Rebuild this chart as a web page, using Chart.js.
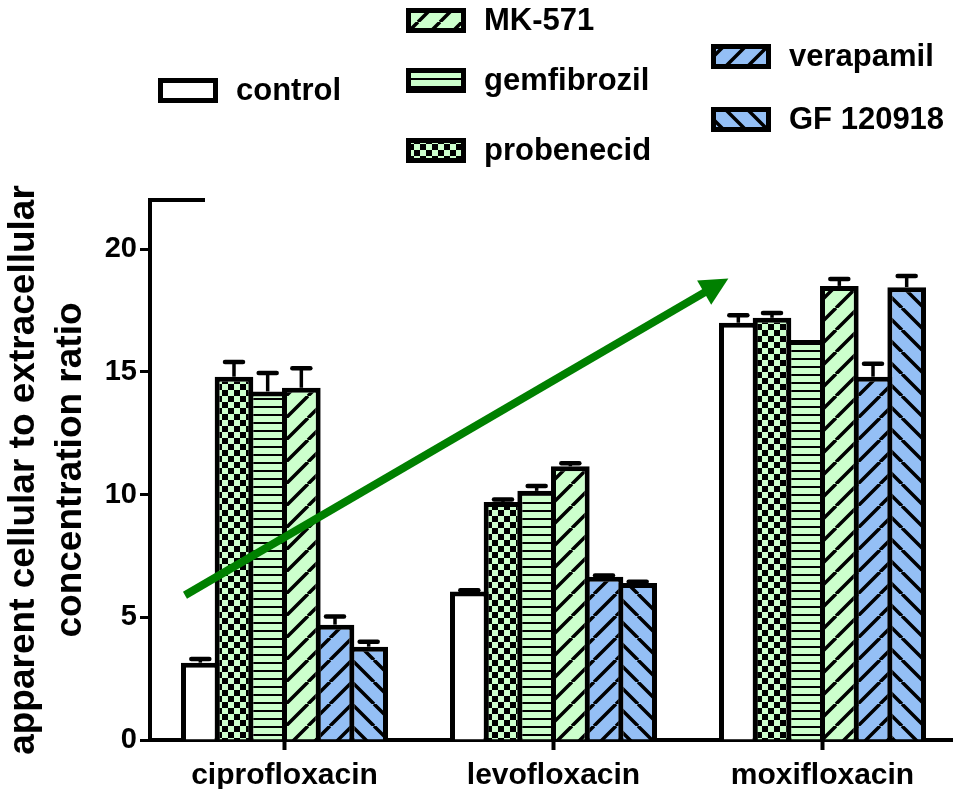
<!DOCTYPE html>
<html>
<head>
<meta charset="utf-8">
<title>Fluoroquinolone accumulation</title>
<script src="https://cdn.jsdelivr.net/npm/chart.js@4.4.1/dist/chart.umd.min.js"></script>
<style>
    html, body { margin: 0; padding: 0; background: #fff; overflow: hidden; }
    canvas { display: block; }
</style>
</head>
<body>
<canvas id="uptakeChart" width="960" height="789"></canvas>
<script>
// Cellular accumulation of three fluoroquinolones with / without efflux inhibitors
const drugs = ['ciprofloxacin', 'levofloxacin', 'moxifloxacin'];
const treatments = ['control', 'probenecid', 'gemfibrozil', 'MK-571', 'verapamil', 'GF 120918'];

const controlVals    = [3.15, 6.05, 17.0];
const probenecidVals = [14.8, 9.7, 17.2];
const gemfibrozilVals = [14.2, 10.15, 16.3];
const mk571Vals      = [14.35, 11.15, 18.5];
const verapamilVals  = [4.7, 6.65, 14.8];
const gf120918Vals   = [3.8, 6.4, 18.45];

// SEM (upper bar only)
const controlErr    = [0.15, 0.05, 0.3];
const probenecidErr = [0.6, 0.1, 0.2];
const gemfibrozilErr = [0.75, 0.2, 0];
const mk571Err      = [0.8, 0.12, 0.28];
const verapamilErr  = [0.33, 0.05, 0.53];
const gf120918Err   = [0.2, 0.05, 0.45];

const yTicks = [0, 5, 10, 15, 20];

// trend arrow, in (category index, ratio) units
const arrowFrom = [-0.37, 5.9];
const arrowTo = [1.65, 18.8];

const GREEN = '#ccffcc';
const BLUE = '#94bff5';
const FONT = '"Liberation Sans", Arial, Helvetica, sans-serif';

const canvas = document.getElementById('uptakeChart');
const mainCtx = canvas.getContext('2d');

function makePattern(size, draw) {
    const tile = document.createElement('canvas');
    tile.width = size;
    tile.height = size;
    draw(tile.getContext('2d'), size);
    return mainCtx.createPattern(tile, 'repeat');
}

function checker(color) {
    return makePattern(12, (g, s) => {
        g.fillStyle = color;
        g.fillRect(0, 0, s, s);
        g.fillStyle = '#000';
        g.fillRect(0, 0, 6, 6);
        g.fillRect(6, 6, 6, 6);
    });
}

function hLines(color) {
    return makePattern(8, (g, s) => {
        g.fillStyle = color;
        g.fillRect(0, 0, s, s);
        g.fillStyle = '#000';
        g.fillRect(0, 6, s, 2);
    });
}

function diagonal(color, rising) {
    return makePattern(22, (g, s) => {
        g.fillStyle = color;
        g.fillRect(0, 0, s, s);
        g.strokeStyle = '#000';
        g.lineWidth = 3.5;
        g.beginPath();
        for (const k of [-s, 0, s]) {
            if (rising) {
                g.moveTo(k, s);
                g.lineTo(k + s, 0);
            } else {
                g.moveTo(k, 0);
                g.lineTo(k + s, s);
            }
        }
        g.stroke();
    });
}

const fills = [
    '#ffffff',
    checker(GREEN),
    hLines(GREEN),
    diagonal(GREEN, true),
    diagonal(BLUE, true),
    diagonal(BLUE, false)
];

const seriesVals = [controlVals, probenecidVals, gemfibrozilVals, mk571Vals, verapamilVals, gf120918Vals];
const seriesErr = [controlErr, probenecidErr, gemfibrozilErr, mk571Err, verapamilErr, gf120918Err];

// legend boxes: top-left corner of each swatch
const legendSlots = [
    { x: 158, y: 78 },
    { x: 406, y: 138 },
    { x: 406, y: 68 },
    { x: 406, y: 8 },
    { x: 711, y: 44 },
    { x: 711, y: 107 }
];

const errorBars = {
    id: 'errorBars',
    afterDatasetsDraw(chart) {
        const ctx = chart.ctx;
        const yScale = chart.scales.y;
        chart.data.datasets.forEach((ds, i) => {
            const meta = chart.getDatasetMeta(i);
            meta.data.forEach((bar, j) => {
                const err = ds.errors[j];
                if (!err) return;
                const top = yScale.getPixelForValue(ds.data[j] + err);
                ctx.save();
                ctx.strokeStyle = '#000';
                ctx.lineWidth = 3.5;
                ctx.beginPath();
                ctx.moveTo(bar.x, bar.y);
                ctx.lineTo(bar.x, top);
                ctx.stroke();
                ctx.lineWidth = 4.5;
                ctx.lineCap = 'round';
                ctx.beginPath();
                ctx.moveTo(bar.x - 9, top);
                ctx.lineTo(bar.x + 9, top);
                ctx.stroke();
                ctx.restore();
            });
        });
    }
};

const trendArrow = {
    id: 'trendArrow',
    afterDatasetsDraw(chart) {
        const ctx = chart.ctx;
        const { x, y } = chart.scales;
        const x0 = x.getPixelForValue(arrowFrom[0]);
        const y0 = y.getPixelForValue(arrowFrom[1]);
        const x1 = x.getPixelForValue(arrowTo[0]);
        const y1 = y.getPixelForValue(arrowTo[1]);
        const ang = Math.atan2(y1 - y0, x1 - x0);
        const headLen = 28;
        const headHalf = 14;
        const bx = x1 - headLen * Math.cos(ang);
        const by = y1 - headLen * Math.sin(ang);

        ctx.save();
        ctx.strokeStyle = '#008000';
        ctx.fillStyle = '#008000';
        ctx.lineWidth = 8;
        ctx.beginPath();
        ctx.moveTo(x0, y0);
        ctx.lineTo(bx + 2 * Math.cos(ang), by + 2 * Math.sin(ang));
        ctx.stroke();
        ctx.beginPath();
        ctx.moveTo(x1, y1);
        ctx.lineTo(bx + headHalf * Math.sin(ang), by - headHalf * Math.cos(ang));
        ctx.lineTo(bx - headHalf * Math.sin(ang), by + headHalf * Math.cos(ang));
        ctx.closePath();
        ctx.fill();
        ctx.restore();
    }
};

const axisCorner = {
    id: 'axisCorner',
    afterDraw(chart) {
        const { left, top } = chart.chartArea;
        const ctx = chart.ctx;
        ctx.save();
        ctx.strokeStyle = '#000';
        ctx.lineWidth = 4;
        ctx.beginPath();
        ctx.moveTo(left - 2, top);
        ctx.lineTo(left + 55, top);
        ctx.stroke();
        ctx.restore();
    }
};

const boxLegend = {
    id: 'boxLegend',
    afterDraw(chart) {
        const ctx = chart.ctx;
        ctx.save();
        ctx.font = 'bold 31px ' + FONT;
        ctx.textBaseline = 'middle';
        chart.data.datasets.forEach((ds, i) => {
            const slot = legendSlots[i];
            ctx.fillStyle = '#000';
            ctx.fillRect(slot.x, slot.y, 60, 25);
            ctx.fillStyle = ds.backgroundColor;
            ctx.fillRect(slot.x + 5, slot.y + 5, 50, 15);
            ctx.fillStyle = '#000';
            ctx.fillText(ds.label, slot.x + 78, slot.y + 13);
        });
        ctx.restore();
    }
};

Chart.defaults.font.family = FONT;

new Chart(canvas, {
    type: 'bar',
    data: {
        labels: drugs,
        datasets: treatments.map((name, i) => ({
            label: name,
            data: seriesVals[i],
            errors: seriesErr[i],
            backgroundColor: fills[i],
            borderColor: '#000',
            borderWidth: 5,
            borderSkipped: 'start',
            categoryPercentage: 0.751,
            barPercentage: 1.148
        }))
    },
    options: {
        responsive: false,
        animation: false,
        devicePixelRatio: 1,
        layout: {
            padding: { top: 200, right: 3, left: 0, bottom: 0 }
        },
        plugins: {
            legend: { display: false },
            tooltip: { enabled: false }
        },
        scales: {
            x: {
                offset: true,
                grid: {
                    display: true,
                    drawOnChartArea: false,
                    offset: false,
                    tickLength: 10,
                    tickWidth: 4,
                    tickColor: '#000'
                },
                border: { display: true, color: '#000', width: 4 },
                ticks: {
                    color: '#000',
                    font: { size: 30, weight: 'bold' },
                    padding: 8,
                    maxRotation: 0
                },
                afterFit(scale) { scale.height = 49; }
            },
            y: {
                min: 0,
                max: 22,
                afterBuildTicks(scale) {
                    scale.ticks = yTicks.map(v => ({ value: v }));
                },
                grid: {
                    drawOnChartArea: false,
                    tickLength: 10,
                    tickWidth: 3,
                    tickColor: '#000'
                },
                border: { display: true, color: '#000', width: 4 },
                ticks: {
                    color: '#000',
                    font: { size: 29, weight: 'bold' },
                    padding: 3
                },
                title: {
                    display: true,
                    text: ['apparent cellular to extracellular', 'concentration ratio'],
                    color: '#000',
                    font: { size: 37, weight: 'bold', lineHeight: 1.27 },
                    padding: 0
                },
                afterFit(scale) { scale.width = 150; }
            }
        }
    },
    plugins: [errorBars, trendArrow, axisCorner, boxLegend]
});
</script>
</body>
</html>
